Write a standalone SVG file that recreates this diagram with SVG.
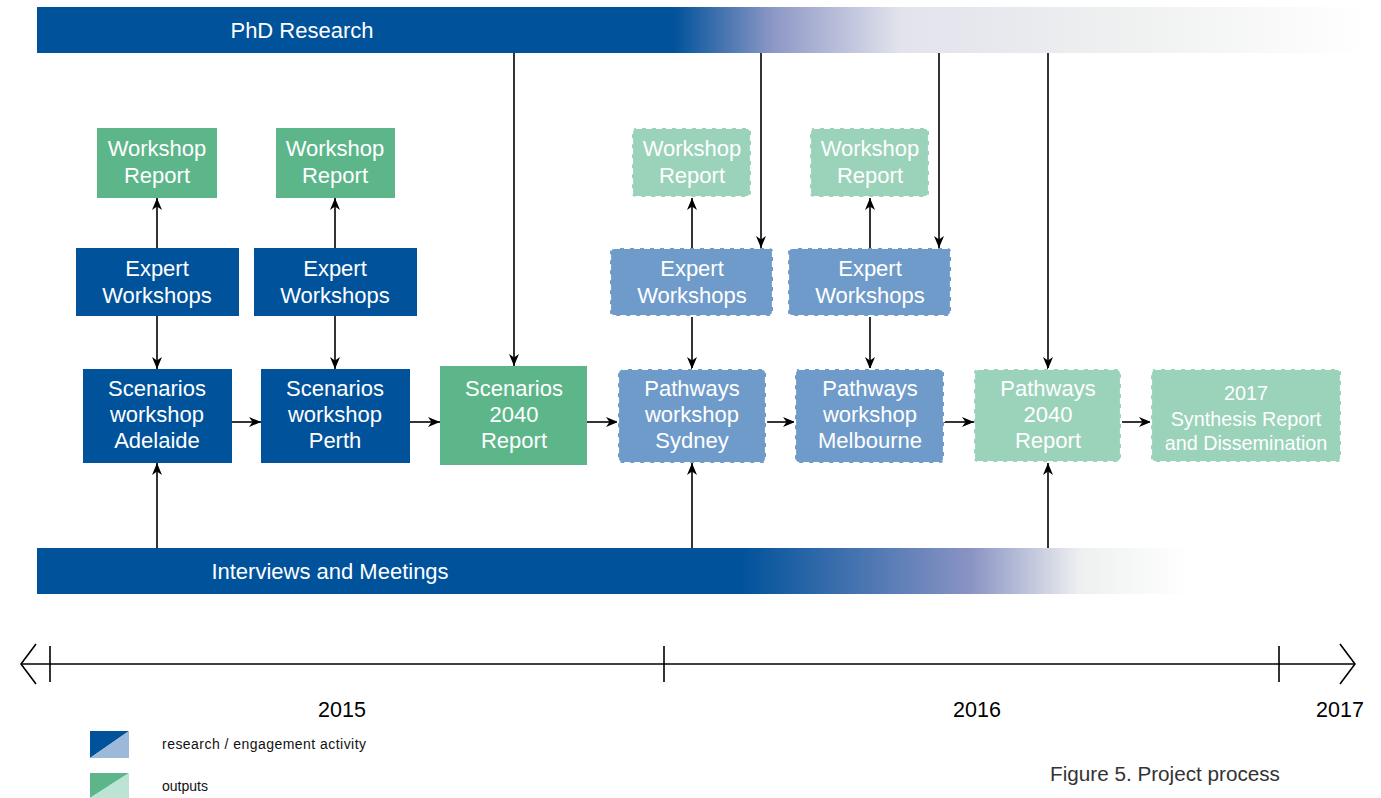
<svg xmlns="http://www.w3.org/2000/svg" width="1381" height="798" viewBox="0 0 1381 798">
<defs>
<linearGradient id="gTop" gradientUnits="userSpaceOnUse" x1="37" y1="0" x2="1365" y2="0">
<stop offset="0" stop-color="#00529b"/>
<stop offset="0.479" stop-color="#00529b"/>
<stop offset="0.555" stop-color="#8e98c6"/>
<stop offset="0.65" stop-color="#e2e3ec"/>
<stop offset="0.82" stop-color="#eff0f0"/>
<stop offset="1" stop-color="#ffffff"/>
</linearGradient>
<linearGradient id="gBot" gradientUnits="userSpaceOnUse" x1="37" y1="0" x2="1190" y2="0">
<stop offset="0" stop-color="#00529b"/>
<stop offset="0.61" stop-color="#00529b"/>
<stop offset="0.81" stop-color="#8a94c4"/>
<stop offset="0.905" stop-color="#eef0f0"/>
<stop offset="1" stop-color="#ffffff"/>
</linearGradient>
<marker id="arr" markerUnits="userSpaceOnUse" markerWidth="14" markerHeight="12" refX="12" refY="6" orient="auto">
<path d="M0,1 L12,6 L0,11 L3.5,6 z" fill="#000"/>
</marker>
</defs>
<style>
.t{font-family:"Liberation Sans",Arial,sans-serif;fill:#fff;font-size:22px;text-anchor:middle}
.dk{fill:#00529b}
.gr{fill:#5db68a}
.lb{fill:#6f9bca;stroke:#fff;stroke-width:2.2;stroke-dasharray:6 4}
.lg{fill:#9bd2ba;stroke:#fff;stroke-width:2.2;stroke-dasharray:6 4}
.c{stroke:#000;stroke-width:1.6;fill:none;marker-end:url(#arr)}
.yr{font-family:"Liberation Sans",Arial,sans-serif;fill:#000;font-size:21.5px;text-anchor:middle}
</style>
<rect width="1381" height="798" fill="#fff"/>

<g id="bar-phd">
<rect x="37" y="7" width="1328" height="46" fill="url(#gTop)"/>
<text class="t" x="302" y="38">PhD Research</text>
</g>
<g id="bar-interviews">
<rect x="37" y="548" width="1153" height="46" fill="url(#gBot)"/>
<text class="t" x="330" y="579">Interviews and Meetings</text>
</g>

<g id="connectors">
<line class="c" x1="157" y1="248" x2="157" y2="198"/>
<line class="c" x1="335" y1="248" x2="335" y2="198"/>
<line class="c" x1="157" y1="316" x2="157" y2="369"/>
<line class="c" x1="335" y1="316" x2="335" y2="369"/>
<line class="c" x1="157" y1="548" x2="157" y2="463"/>
<line class="c" x1="232" y1="422" x2="261" y2="422"/>
<line class="c" x1="410" y1="422" x2="440" y2="422"/>
<line class="c" x1="514" y1="53" x2="514" y2="366"/>
<line class="c" x1="587" y1="422" x2="618" y2="422"/>
<line class="c" x1="692" y1="248" x2="692" y2="198"/>
<line class="c" x1="692" y1="316" x2="692" y2="369"/>
<line class="c" x1="761" y1="53" x2="761" y2="248"/>
<line class="c" x1="870" y1="248" x2="870" y2="198"/>
<line class="c" x1="870" y1="316" x2="870" y2="369"/>
<line class="c" x1="939" y1="53" x2="939" y2="248"/>
<line class="c" x1="692" y1="548" x2="692" y2="463"/>
<line class="c" x1="766" y1="422" x2="795" y2="422"/>
<line class="c" x1="944" y1="422" x2="974" y2="422"/>
<line class="c" x1="1048" y1="53" x2="1048" y2="369"/>
<line class="c" x1="1048" y1="548" x2="1048" y2="463"/>
<line class="c" x1="1121" y1="422" x2="1151" y2="422"/>
</g>

<g id="wr1"><rect class="gr" x="97" y="128" width="120" height="70"/><text class="t" x="157" y="156">Workshop</text><text class="t" x="157" y="183">Report</text></g>
<g id="wr2"><rect class="gr" x="276" y="128" width="119" height="70"/><text class="t" x="335" y="156">Workshop</text><text class="t" x="335" y="183">Report</text></g>
<g id="wr3"><rect class="lg" x="632" y="128" width="119" height="69" rx="4"/><text class="t" x="692" y="156">Workshop</text><text class="t" x="692" y="183">Report</text></g>
<g id="wr4"><rect class="lg" x="810" y="128" width="119" height="69" rx="4"/><text class="t" x="870" y="156">Workshop</text><text class="t" x="870" y="183">Report</text></g>

<g id="ew1"><rect class="dk" x="76" y="248" width="163" height="68"/><text class="t" x="157" y="276">Expert</text><text class="t" x="157" y="303">Workshops</text></g>
<g id="ew2"><rect class="dk" x="254" y="248" width="163" height="68"/><text class="t" x="335" y="276">Expert</text><text class="t" x="335" y="303">Workshops</text></g>
<g id="ew3"><rect class="lb" x="610" y="248" width="163" height="68" rx="4"/><text class="t" x="692" y="276">Expert</text><text class="t" x="692" y="303">Workshops</text></g>
<g id="ew4"><rect class="lb" x="788" y="248" width="163" height="68" rx="4"/><text class="t" x="870" y="276">Expert</text><text class="t" x="870" y="303">Workshops</text></g>

<g id="sw-adelaide"><rect class="dk" x="83" y="369" width="149" height="94"/><text class="t" x="157" y="396">Scenarios</text><text class="t" x="157" y="422">workshop</text><text class="t" x="157" y="448">Adelaide</text></g>
<g id="sw-perth"><rect class="dk" x="261" y="369" width="149" height="94"/><text class="t" x="335" y="396">Scenarios</text><text class="t" x="335" y="422">workshop</text><text class="t" x="335" y="448">Perth</text></g>
<g id="sc-report"><rect class="gr" x="440" y="366" width="147" height="99"/><text class="t" x="514" y="396">Scenarios</text><text class="t" x="514" y="422">2040</text><text class="t" x="514" y="448">Report</text></g>
<g id="pw-sydney"><rect class="lb" x="618" y="369" width="148" height="94" rx="4"/><text class="t" x="692" y="396">Pathways</text><text class="t" x="692" y="422">workshop</text><text class="t" x="692" y="448">Sydney</text></g>
<g id="pw-melbourne"><rect class="lb" x="795" y="369" width="149" height="94" rx="4"/><text class="t" x="870" y="396">Pathways</text><text class="t" x="870" y="422">workshop</text><text class="t" x="870" y="448">Melbourne</text></g>
<g id="pw-report"><rect class="lg" x="974" y="369" width="147" height="93" rx="4"/><text class="t" x="1048" y="396">Pathways</text><text class="t" x="1048" y="422">2040</text><text class="t" x="1048" y="448">Report</text></g>
<g id="synthesis"><rect class="lg" x="1151" y="369" width="190" height="93" rx="4"/><text class="t" x="1246" y="400" style="font-size:19.8px">2017</text><text class="t" x="1246" y="426" style="font-size:19.8px">Synthesis Report</text><text class="t" x="1246" y="450" style="font-size:19.8px">and Dissemination</text></g>

<g id="timeline" stroke="#000" stroke-width="1.6" fill="none">
<line x1="22" y1="664" x2="1355" y2="664"/>
<polyline points="36,644 21,664 36,684"/>
<polyline points="1340,644 1355,664 1340,684"/>
<line x1="50" y1="646" x2="50" y2="682"/>
<line x1="664" y1="646" x2="664" y2="682"/>
<line x1="1279" y1="646" x2="1279" y2="682"/>
</g>
<g id="years">
<text class="yr" x="342" y="717">2015</text>
<text class="yr" x="977" y="717">2016</text>
<text class="yr" x="1340" y="717">2017</text>
</g>

<g id="legend">
<polygon points="90,731 129,731 90,758" fill="#00529b"/>
<polygon points="129,731 129,758 90,758" fill="#9db9da"/>
<polygon points="90,773 129,773 90,798" fill="#5db68a"/>
<polygon points="129,773 129,798 90,798" fill="#bce3d3"/>
<text x="162" y="749" font-family="'Liberation Sans',Arial,sans-serif" font-size="14" fill="#111" textLength="204">research / engagement activity</text>
<text x="162" y="791" font-family="'Liberation Sans',Arial,sans-serif" font-size="14" fill="#111">outputs</text>
</g>
<text id="caption" x="1050" y="781" font-family="'Liberation Sans',Arial,sans-serif" font-size="20.7" fill="#333">Figure 5. Project process</text>
</svg>
